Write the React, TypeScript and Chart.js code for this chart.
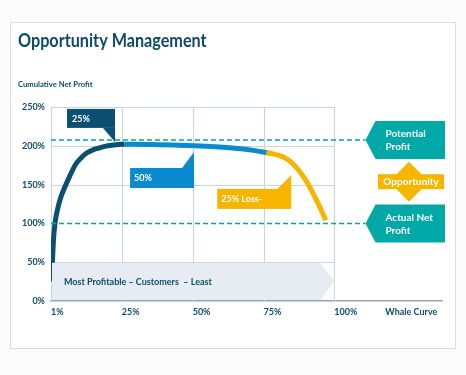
import React, { useEffect, useRef } from "react";
import { Chart, registerables } from "chart.js";

Chart.register(...registerables);

// ---- data ----
const xTickValues = [0, 25, 50, 75, 100, 118];
const xTickLabels = ["1%", "25%", "50%", "75%", "100%", "Whale Curve"];
const yTickLabels = ["0%", "50%", "100%", "150%", "200%", "250%"];

const topSegX = [0.2, 0.5, 0.9, 1.4, 2.3, 3.4, 4.9, 6.5, 8.5, 10.5, 12.7, 15, 17.3, 20, 23, 26];
const topSegY = [25, 50, 80, 100, 118, 133, 147, 160, 175, 184, 191, 195, 197.5, 200, 201.5, 202];
const midSegX = [26, 35, 45, 55, 65, 72, 77];
const midSegY = [202, 201.6, 200.8, 199.3, 196.8, 193.8, 190.5];
const lossSegX = [76, 79, 82, 85, 88, 90.5, 93, 95, 97];
const lossSegY = [191, 189, 185.5, 178, 166, 152, 135, 120, 104];

const potentialProfit = 207.5;
const actualNetProfit = 100;
const dashEndX = 111;

const title = "Opportunity Management";
const yAxisTitle = "Cumulative Net Profit";
const bandText = "Most Profitable \u2013 Customers  \u2013 Least";

const NAVY = "#0b5073";
const BLUE = "#0a8bd0";
const YELLOW = "#f8b500";
const TEAL = "#00a8a8";
const GRID = "#c6d5de";
const TEXT = "#0d4b6b";
const FONT = "Lato, 'Open Sans', sans-serif";

const pts = (xs: number[], ys: number[]) => xs.map((x, i) => ({ x, y: ys[i] }));

export default function App() {
  const ref = useRef<HTMLCanvasElement | null>(null);

  useEffect(() => {
    document.body.style.margin = "0";
    const canvas = ref.current!;

    const deco = {
      id: "deco",
      beforeDraw(chart: any) {
        const ctx = chart.ctx;
        ctx.save();
        ctx.fillStyle = "#fbfbfb";
        ctx.fillRect(0, 0, chart.width, chart.height);
        ctx.fillStyle = "#ffffff";
        ctx.fillRect(10, 22, 445, 326);
        ctx.strokeStyle = "#d9dee2";
        ctx.lineWidth = 1;
        ctx.strokeRect(10.5, 22.5, 445, 326);
        ctx.fillStyle = TEXT;
        ctx.textBaseline = "alphabetic";
        ctx.textAlign = "left";
        ctx.save();
        ctx.translate(18, 47);
        ctx.scale(0.9, 1);
        ctx.font = `bold 18px ${FONT}`;
        ctx.fillText(title, 0, 0);
        ctx.restore();
        ctx.save();
        ctx.translate(18, 87);
        ctx.scale(0.96, 1);
        ctx.font = `bold 8px ${FONT}`;
        ctx.fillText(yAxisTitle, 0, 0);
        ctx.restore();
        ctx.restore();
      },
      beforeDatasetsDraw(chart: any) {
        const ctx = chart.ctx;
        const xs = chart.scales.x;
        const ys = chart.scales.y;
        const X = (v: number) => xs.getPixelForValue(v);
        const Y = (v: number) => ys.getPixelForValue(v);
        ctx.save();
        ctx.strokeStyle = GRID;
        ctx.lineWidth = 1;
        const right = Math.round(X(100)) + 0.5;
        [50, 150, 200, 250].forEach((v) => {
          const y = Math.round(Y(v)) + 0.5;
          ctx.beginPath();
          ctx.moveTo(X(0), y);
          ctx.lineTo(right, y);
          ctx.stroke();
        });
        [0, 25, 50, 75, 100].forEach((v) => {
          const x = Math.round(X(v)) + 0.5;
          ctx.beginPath();
          ctx.moveTo(x, Y(250));
          ctx.lineTo(x, Y(0));
          ctx.stroke();
        });
        ctx.restore();
      },
      afterDatasetsDraw(chart: any) {
        const ctx = chart.ctx;
        const xs = chart.scales.x;
        const ys = chart.scales.y;
        const X = (v: number) => xs.getPixelForValue(v);
        const Y = (v: number) => ys.getPixelForValue(v);
        ctx.save();
        // band arrow
        const bL = X(0) + 1, bR = X(100), bT = Y(50) + 0.5, bB = Y(0) - 1;
        ctx.fillStyle = "#e6ecf1";
        ctx.beginPath();
        ctx.moveTo(bL, bT);
        ctx.lineTo(bR - 14, bT);
        ctx.lineTo(bR, (bT + bB) / 2);
        ctx.lineTo(bR - 14, bB);
        ctx.lineTo(bL, bB);
        ctx.closePath();
        ctx.fill();
        ctx.fillStyle = TEXT;
        ctx.font = `bold 9px ${FONT}`;
        ctx.textBaseline = "middle";
        ctx.textAlign = "left";
        ctx.fillText(bandText, bL + 12, (bT + bB) / 2 + 1);

        const label = (txt: string, x: number, y: number, size = 9) => {
          ctx.fillStyle = "#ffffff";
          ctx.font = `bold ${size}px ${FONT}`;
          ctx.textAlign = "left";
          ctx.textBaseline = "middle";
          ctx.fillText(txt, x, y);
        };

        // 25% callout (pointer down)
        {
          const tx = X(22.6), ty = Y(205);
          const r = tx, b = ty - 14, w = 48, h = 19;
          ctx.fillStyle = NAVY;
          ctx.fillRect(r - w, b - h, w, h);
          ctx.beginPath();
          ctx.moveTo(r - 12, b);
          ctx.lineTo(r, b);
          ctx.lineTo(r, ty);
          ctx.closePath();
          ctx.fill();
          label("25%", r - w + 5, b - h / 2 + 0.5);
        }
        // 50% callout (pointer up)
        {
          const tx = X(50.5), ty = Y(192);
          const r = tx, t = ty + 16, w = 64, h = 20;
          ctx.fillStyle = BLUE;
          ctx.fillRect(r - w, t, w, h);
          ctx.beginPath();
          ctx.moveTo(r - 12, t);
          ctx.lineTo(r, t);
          ctx.lineTo(r, ty);
          ctx.closePath();
          ctx.fill();
          label("50%", r - w + 4, t + h / 2 + 0.5);
        }
        // 25% Loss- callout
        {
          const tx = X(84.8), ty = Y(162.5);
          const r = tx, t = ty + 14, w = 74, h = 20;
          ctx.fillStyle = YELLOW;
          ctx.fillRect(r - w, t, w, h);
          ctx.beginPath();
          ctx.moveTo(r - 14, t);
          ctx.lineTo(r, t);
          ctx.lineTo(r, ty);
          ctx.closePath();
          ctx.fill();
          label("25% Loss-", r - w + 4, t + h / 2 + 0.5);
        }
        // teal arrow tags
        const tag = (ty: number, l1: string, l2: string) => {
          const tx = X(dashEndX), right = 445, h = 38;
          ctx.fillStyle = TEAL;
          ctx.beginPath();
          ctx.moveTo(tx, ty);
          ctx.lineTo(tx + 10, ty - h / 2);
          ctx.lineTo(right, ty - h / 2);
          ctx.lineTo(right, ty + h / 2);
          ctx.lineTo(tx + 10, ty + h / 2);
          ctx.closePath();
          ctx.fill();
          label(l1, tx + 20, ty - 6, 10);
          label(l2, tx + 20, ty + 7, 10);
        };
        const pY = Y(potentialProfit), aY = Y(actualNetProfit);
        tag(pY, "Potential", "Profit");
        tag(aY, "Actual Net", "Profit");
        // opportunity diamond
        {
          const cy = (pY + aY) / 2, cx = 409;
          ctx.fillStyle = YELLOW;
          ctx.beginPath();
          ctx.moveTo(cx, cy - 20);
          ctx.lineTo(cx + 20, cy);
          ctx.lineTo(cx, cy + 20);
          ctx.lineTo(cx - 20, cy);
          ctx.closePath();
          ctx.fill();
          ctx.fillRect(378, cy - 7.5, 66, 15);
          ctx.fillStyle = "#ffffff";
          ctx.font = `bold 10px ${FONT}`;
          ctx.textAlign = "center";
          ctx.textBaseline = "middle";
          ctx.fillText("Opportunity", 411, cy + 0.5);
        }
        ctx.restore();
      },
    };

    const lineDs = (data: any[], color: string) => ({
      type: "line" as const,
      data,
      borderColor: color,
      borderWidth: 5,
      pointRadius: 0,
      cubicInterpolationMode: "monotone" as const,
      borderCapStyle: "butt" as const,
      fill: false,
    });
    const dashDs = (yv: number) => ({
      type: "line" as const,
      data: [
        { x: 0, y: yv },
        { x: dashEndX, y: yv },
      ],
      borderColor: TEAL,
      borderWidth: 1.5,
      borderDash: [5, 3],
      pointRadius: 0,
      fill: false,
    });

    const chart = new Chart(canvas, {
      type: "line",
      data: {
        datasets: [
          dashDs(potentialProfit),
          dashDs(actualNetProfit),
          lineDs(pts(lossSegX, lossSegY), YELLOW),
          lineDs(pts(midSegX, midSegY), BLUE),
          lineDs(pts(topSegX, topSegY), NAVY),
        ],
      },
      options: {
        responsive: false,
        animation: false,
        layout: { padding: { left: 0, top: 107, right: 24, bottom: 0 } },
        plugins: { legend: { display: false }, tooltip: { enabled: false }, title: { display: false } },
        scales: {
          x: {
            type: "linear",
            min: 0,
            max: 138,
            grid: { display: false, drawTicks: false },
            border: { display: true, color: "#8fa9ba", width: 1.5 },
            afterFit: (s: any) => {
              s.height = 74;
            },
            afterBuildTicks: (s: any) => {
              s.ticks = xTickValues.map((v) => ({ value: v }));
            },
            ticks: {
              autoSkip: false,
              maxRotation: 0,
              align: "start",
              padding: 6,
              color: TEXT,
              font: { family: FONT, size: 9, weight: "bold" },
              callback: (_v: any, i: number) => xTickLabels[i],
            },
          },
          y: {
            min: 0,
            max: 250,
            grid: { display: false, drawTicks: false },
            border: { display: false },
            afterFit: (s: any) => {
              s.width = 51;
            },
            ticks: {
              stepSize: 50,
              padding: 6,
              color: TEXT,
              font: { family: FONT, size: 9, weight: "bold" },
              callback: (_v: any, i: number) => yTickLabels[i],
            },
          },
        },
      },
      plugins: [deco],
    });
    return () => chart.destroy();
  }, []);

  return <canvas ref={ref} width={466} height={375} style={{ display: "block" }} />;
}
